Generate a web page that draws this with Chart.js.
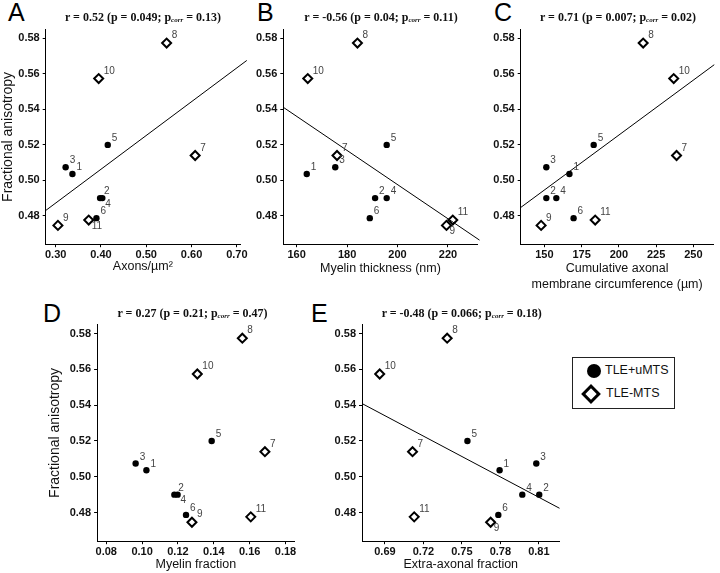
<!DOCTYPE html>
<html>
<head>
<meta charset="utf-8">
<script src="https://cdn.jsdelivr.net/npm/chart.js@4.4.1/dist/chart.umd.min.js"></script>
<style>
html, body { margin: 0; padding: 0; background: #fff; overflow: hidden; }
#wrap { position: relative; width: 720px; height: 573px; }
#wrap canvas { position: absolute; }
.letter { position: absolute; font: 25px/25px "Liberation Sans", Arial, sans-serif; color: #000; }
.ttl { position: absolute; font: bold 12px/14px "Liberation Serif", "Times New Roman", serif; color: #111;
       white-space: nowrap; transform: translate(-50%, -50%); }
.ttl sub { font-size: 7px; vertical-align: -1px; font-style: italic; }
#legend { position: absolute; left: 572px; top: 357px; width: 101px; height: 50px; border: 1.5px solid #222; }
#legend .item { position: absolute; font: 12.5px "Liberation Sans", Arial, sans-serif; color: #111; white-space: nowrap; }
#legend .dot { position: absolute; width: 14px; height: 14px; border-radius: 50%; background: #000; }
#legend .dia { position: absolute; width: 8px; height: 8px; border: 3px solid #000; background: #fff; transform: rotate(45deg); }
</style>
</head>
<body>
<div id="wrap">
  <div class="letter" style="left:8px;top:0px">A</div>
  <div class="letter" style="left:257px;top:0px">B</div>
  <div class="letter" style="left:494px;top:0px">C</div>
  <div class="letter" style="left:43px;top:301px">D</div>
  <div class="letter" style="left:311px;top:301px">E</div>
  <div id="legend">
    <div class="dot" style="left:14px;top:6px"></div>
    <div class="item" style="left:32px;top:5px">TLE+uMTS</div>
    <div class="dia" style="left:11px;top:29px"></div>
    <div class="item" style="left:33px;top:28px">TLE-MTS</div>
  </div>
</div>
<script>
// subjects 1-6 are TLE+uMTS, 7-11 TLE-MTS
const subjects = [1, 2, 3, 4, 5, 6, 7, 8, 9, 10, 11];
const groupOf = ['uMTS', 'uMTS', 'uMTS', 'uMTS', 'uMTS', 'uMTS', 'MTS', 'MTS', 'MTS', 'MTS', 'MTS'];

const fractionalAnisotropy = [0.5036, 0.490, 0.5074, 0.490, 0.520, 0.4787, 0.514, 0.5774, 0.4746, 0.5574, 0.4776];
const axonsPerUm2 = [0.337, 0.398, 0.322, 0.403, 0.415, 0.390, 0.608, 0.545, 0.305, 0.395, 0.373];
const myelinThickness = [164.0, 191.1, 175.3, 195.7, 195.7, 189.0, 176.0, 184.1, 219.4, 164.4, 221.9];
const membraneCircumference = [166.8, 151.3, 151.3, 158.0, 183.1, 169.6, 238.7, 216.3, 147.8, 236.8, 184.1];
const myelinFraction = [0.1024, 0.118, 0.0964, 0.1198, 0.1388, 0.1245, 0.1685, 0.1559, 0.1278, 0.1308, 0.1606];
const extraAxonalFraction = [0.7794, 0.8103, 0.8080, 0.7971, 0.7543, 0.7784, 0.7115, 0.7385, 0.7724, 0.6859, 0.7128];

// regression lines (end points in data units)
const fitAxons = [{x: 0.278, y: 0.483}, {x: 0.722, y: 0.5676}];
const fitMyelin = [{x: 154.7, y: 0.5412}, {x: 232.5, y: 0.4663}];
const fitCircumference = [{x: 134.1, y: 0.4847}, {x: 264, y: 0.5652}];
const fitExtra = [{x: 0.6721, y: 0.5409}, {x: 0.8261, y: 0.4824}];

// tick labels
const faTicks = [0.48, 0.50, 0.52, 0.54, 0.56, 0.58];
const axonTicks = [0.30, 0.40, 0.50, 0.60, 0.70];
const myelinTicks = [160, 180, 200, 220];
const circumferenceTicks = [150, 175, 200, 225, 250];
const myelinFractionTicks = [0.08, 0.10, 0.12, 0.14, 0.16, 0.18];
const extraTicks = [0.69, 0.72, 0.75, 0.78, 0.81];

// correlation stats: r, p, p corrected
const statsA = ['0.52', '0.049', '0.13'];
const statsB = ['-0.56', '0.04', '0.11'];
const statsC = ['0.71', '0.007', '0.02'];
const statsD = ['0.27', '0.21', '0.47'];
const statsE = ['-0.48', '0.066', '0.18'];

Chart.defaults.font.family = '"Liberation Sans", Arial, sans-serif';

const pointNumbers = {
    id: 'pointNumbers',
    afterDatasetsDraw(chart, args, opts) {
        const ctx = chart.ctx;
        ctx.save();
        ctx.font = '10px "Liberation Sans", Arial, sans-serif';
        ctx.fillStyle = '#444';
        ctx.textBaseline = 'middle';
        chart.data.datasets.forEach((ds, i) => {
            if (!ds.ids) return;
            chart.getDatasetMeta(i).data.forEach((pt, j) => {
                const id = ds.ids[j];
                const below = (opts.below || []).includes(id);
                const dx = below ? 3 : (ds.diamond ? 5 : 4);
                const dy = below ? 6 : (ds.diamond ? -7.5 : -6.5);
                ctx.fillText(String(id), pt.x + dx, pt.y + dy);
            });
        });
        ctx.restore();
    }
};

const tickFont = { size: 11, weight: 'bold' };

// area = chart area [left, top, right, bottom], box = canvas [left, top, right, bottom]
const panels = [
    { xs: axonsPerUm2, ticks: axonTicks, dec: 2, min: 0.278, max: 0.707, fit: fitAxons, xTitle: 'Axons/µm²',
      yTitle: 'Fractional anisotropy', stats: statsA, below: [4, 11],
      area: [45.7, 28.8, 240, 244.2], box: [0, 20, 252, 275], titleAt: [143, 17.5] },
    { xs: myelinThickness, ticks: myelinTicks, dec: 0, min: 154.7, max: 231.7, fit: fitMyelin, xTitle: 'Myelin thickness (nm)',
      stats: statsB, below: [9],
      area: [283.3, 28.8, 478, 244.2], box: [243, 20, 484, 277], titleAt: [381, 17.5] },
    { xs: membraneCircumference, ticks: circumferenceTicks, dec: 0, min: 134.1, max: 263.5, fit: fitCircumference,
      xTitle: ['Cumulative axonal', 'membrane circumference (µm)'], stats: statsC, below: [],
      area: [520.7, 28.8, 719, 244.2], box: [480, 20, 720, 293], titleAt: [618, 17.5] },
    { xs: myelinFraction, ticks: myelinFractionTicks, dec: 2, min: 0.0749, max: 0.185, fit: null, xTitle: 'Myelin fraction',
      yTitle: 'Fractional anisotropy', stats: statsD, below: [4],
      area: [96.7, 324.5, 296.7, 541.2], box: [46.6, 315, 301, 573], titleAt: [192.5, 314] },
    { xs: extraAxonalFraction, ticks: extraTicks, dec: 2, min: 0.6721, max: 0.8261, fit: fitExtra, xTitle: 'Extra-axonal fraction',
      stats: statsE, below: [9],
      area: [362, 324.5, 560, 541.2], box: [320, 315, 566, 573], titleAt: [461.7, 314] }
];

const wrap = document.getElementById('wrap');

panels.forEach(p => {
    const [L, T, R, B] = p.area;
    const [cl, ct, cr, cb] = p.box;
    const cv = document.createElement('canvas');
    cv.width = Math.round(cr - cl);
    cv.height = Math.round(cb - ct);
    cv.style.left = cl + 'px';
    cv.style.top = ct + 'px';
    wrap.appendChild(cv);

    const circles = [], circleIds = [], diamonds = [], diamondIds = [];
    subjects.forEach((s, i) => {
        const pt = { x: p.xs[i], y: fractionalAnisotropy[i] };
        if (groupOf[i] === 'uMTS') { circles.push(pt); circleIds.push(s); }
        else { diamonds.push(pt); diamondIds.push(s); }
    });

    const datasets = [];
    if (p.fit) {
        datasets.push({ data: p.fit, showLine: true, borderColor: '#000', borderWidth: 1, pointRadius: 0, clip: false });
    }
    datasets.push({ label: 'TLE+uMTS', data: circles, ids: circleIds, pointStyle: 'circle', pointRadius: 3.2,
        backgroundColor: '#000', borderColor: '#000', borderWidth: 0 });
    datasets.push({ label: 'TLE-MTS', data: diamonds, ids: diamondIds, diamond: true, pointStyle: 'rectRot', pointRadius: 4.5,
        backgroundColor: '#fff', borderColor: '#000', borderWidth: 2 });

    const yW = L - cl, xH = cb - B;

    new Chart(cv, {
        type: 'scatter',
        data: { datasets },
        options: {
            responsive: false,
            animation: false,
            devicePixelRatio: 1,
            layout: { padding: { left: 0, top: T - ct, right: cr - R, bottom: 0 } },
            plugins: { legend: { display: false }, tooltip: { enabled: false }, pointNumbers: { below: p.below } },
            scales: {
                x: {
                    type: 'linear', min: p.min, max: p.max,
                    afterBuildTicks: s => { s.ticks = p.ticks.map(v => ({ value: v })); },
                    afterFit: s => { s.height = xH; },
                    ticks: { callback: v => Number(v).toFixed(p.dec), font: tickFont, color: '#111', padding: 1,
                             maxRotation: 0, autoSkip: false },
                    grid: { drawOnChartArea: false, color: '#000', tickLength: 3 },
                    border: { color: '#000', width: 1 },
                    title: { display: true, text: p.xTitle, color: '#111', padding: 0, font: { size: 12.5, lineHeight: 1.28 } }
                },
                y: {
                    type: 'linear', min: 0.464, max: 0.585,
                    afterBuildTicks: s => { s.ticks = faTicks.map(v => ({ value: v })); },
                    afterFit: s => { s.width = yW; },
                    ticks: { callback: v => Number(v).toFixed(2), font: tickFont, color: '#111', padding: 3, autoSkip: false },
                    grid: { drawOnChartArea: false, color: '#000', tickLength: 3 },
                    border: { color: '#000', width: 1 },
                    title: { display: !!p.yTitle, text: p.yTitle || '', color: '#111', padding: 0, font: { size: 14 } }
                }
            }
        },
        plugins: [pointNumbers]
    });

    const t = document.createElement('div');
    t.className = 'ttl';
    t.style.left = p.titleAt[0] + 'px';
    t.style.top = p.titleAt[1] + 'px';
    t.innerHTML = 'r = ' + p.stats[0] + ' (p = ' + p.stats[1] + '; p<sub>corr</sub> = ' + p.stats[2] + ')';
    wrap.appendChild(t);
});
</script>
</body>
</html>
